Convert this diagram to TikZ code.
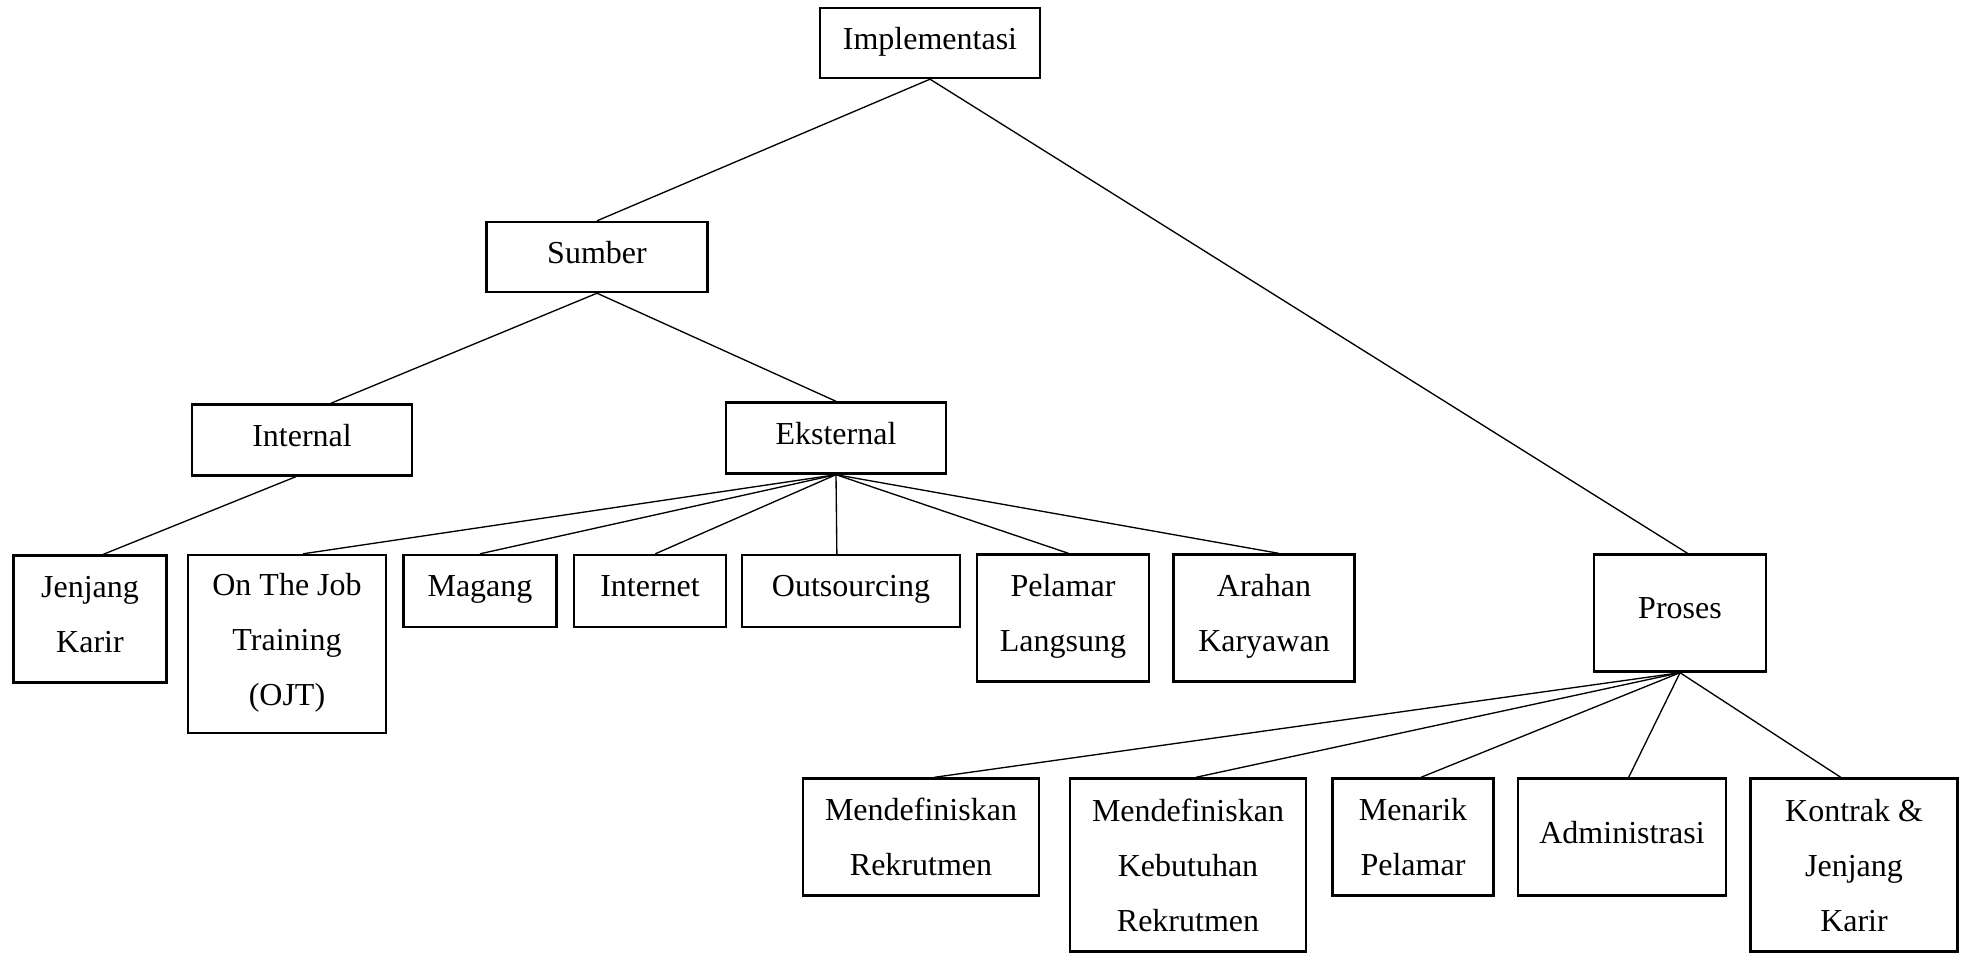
\documentclass[tikz,border=0pt]{standalone}
\usepackage{fontspec}
\setmainfont{Liberation Serif}
\usepackage{tikz}
\usetikzlibrary{positioning}

\begin{document}
\begin{tikzpicture}[x=0.375pt,y=-0.375pt,
  bx/.style={draw,rectangle,line width=0.9pt,inner sep=0pt,align=center,
    text depth=3.5pt,font=\fontsize{12}{20.6}\selectfont,text=black},
  low/.style={text depth=-1pt},
  bw/.style={minimum width=#1*0.375pt},
  bh/.style={minimum height=#1*0.375pt},
  ln/.style={line width=0.5pt}]
\useasboundingbox (0,0) rectangle (1965,954);
% level 0 and 1
\node[bx,bw=220,bh=70] (impl) at (930,43) {Implementasi};
\node[bx,bw=221,bh=70] (sumber) at (597,257) {Sumber};
\node[bx,bw=172,bh=117] (proses) at (1680,613) {Proses};
% sumber
\node[bx,bw=220,bh=71] (internal) at (302,440) {Internal};
\node[bx,bw=220,bh=71] (eksternal) at (836,438) {Eksternal};
\node[bx,bw=153,bh=127] (jenjang) at (90,619) {Jenjang\\Karir};
\node[bx,bw=198,bh=178] (ojt) at (287,644) {On The Job\\Training\\(OJT)};
\node[bx,bw=153,bh=72] (magang) at (480,591) {Magang};
\node[bx,bw=152,bh=72] (internet) at (650,591) {Internet};
\node[bx,bw=218,bh=72] (outsrc) at (851,591) {Outsourcing};
\node[bx,bw=172,bh=127] (pelamar) at (1063,618) {Pelamar\\Langsung};
\node[bx,bw=181,bh=127] (arahan) at (1264,618) {Arahan\\Karyawan};
% proses
\node[bx,low,bw=236,bh=117] (defrek) at (921,837) {Mendefiniskan\\Rekrutmen};
\node[bx,low,bw=236,bh=173] (defkeb) at (1188,865) {Mendefiniskan\\Kebutuhan\\Rekrutmen};
\node[bx,low,bw=161,bh=117] (menarik) at (1413,837) {Menarik\\Pelamar};
\node[bx,bw=208,bh=117] (admin) at (1622,837) {Administrasi};
\node[bx,low,bw=207,bh=173] (kontrak) at (1854,865) {Kontrak \&\\Jenjang\\Karir};

\draw[ln] (impl.south) -- (sumber.north);
\draw[ln] (impl.south) -- ([xshift=2.8pt]proses.north);
\draw[ln] (sumber.south) -- ([xshift=10.8pt]internal.north);
\draw[ln] (sumber.south) -- (eksternal.north);
\draw[ln] ([xshift=-2.3pt]internal.south) -- ([xshift=5pt]jenjang.north);
\draw[ln] (eksternal.south) -- ([xshift=6pt]ojt.north);
\draw[ln] (eksternal.south) -- (magang.north);
\draw[ln] (eksternal.south) -- ([xshift=2pt]internet.north);
\draw[ln] (eksternal.south) -- ([xshift=-5.3pt]outsrc.north);
\draw[ln] (eksternal.south) -- ([xshift=2pt]pelamar.north);
\draw[ln] (eksternal.south) -- ([xshift=5.5pt]arahan.north);
\draw[ln] (proses.south) -- ([xshift=5pt]defrek.north);
\draw[ln] (proses.south) -- ([xshift=3pt]defkeb.north);
\draw[ln] (proses.south) -- ([xshift=3pt]menarik.north);
\draw[ln] (proses.south) -- ([xshift=2.5pt]admin.north);
\draw[ln] (proses.south) -- ([xshift=-5pt]kontrak.north);
\end{tikzpicture}
\end{document}
